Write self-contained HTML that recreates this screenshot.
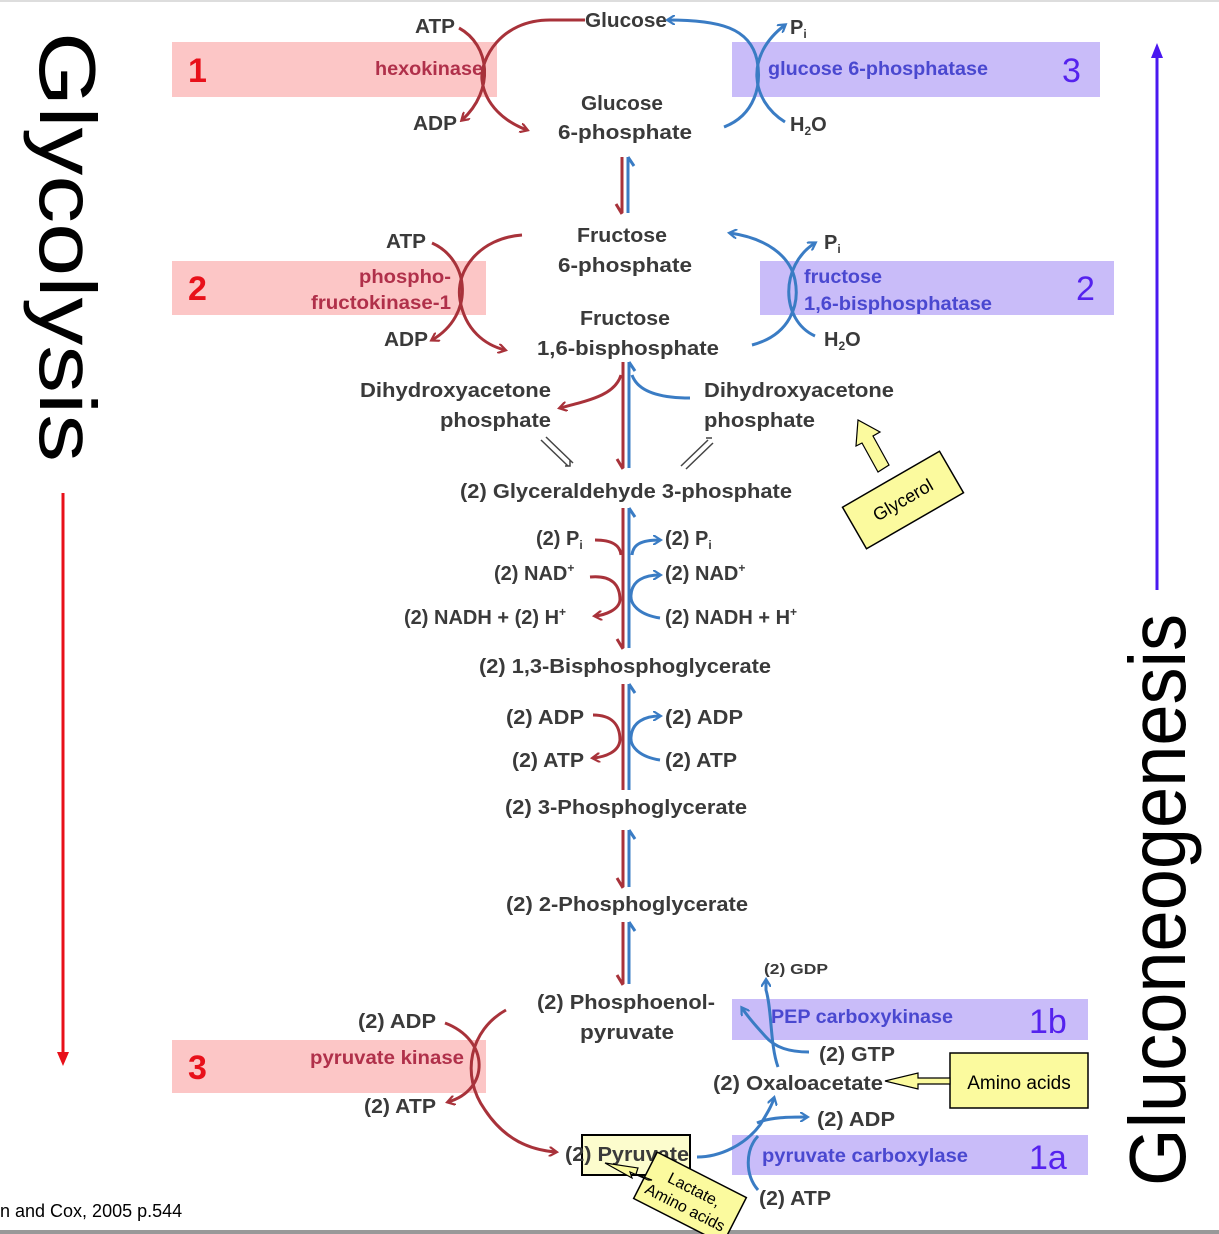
<!DOCTYPE html>
<html><head><meta charset="utf-8"><style>
html,body{margin:0;padding:0;background:#fff;}
svg{display:block;}
text{font-family:"Liberation Sans",sans-serif;}
.t{font-weight:bold;font-size:20px;fill:#3a3a3a;}
.r{fill:none;stroke:#a8323a;stroke-width:3;}
.b{fill:none;stroke:#3a7cc4;stroke-width:3;}
</style></head><body>
<svg width="1219" height="1234" viewBox="0 0 1219 1234" xmlns="http://www.w3.org/2000/svg">
<defs>
<marker id="ar" markerWidth="10" markerHeight="10" refX="7" refY="5" orient="auto" markerUnits="userSpaceOnUse"><path d="M0,0 L8,5 L0,10" fill="none" stroke="#a8323a" stroke-width="2.2"/></marker>
<marker id="ab" markerWidth="10" markerHeight="10" refX="7" refY="5" orient="auto" markerUnits="userSpaceOnUse"><path d="M0,0 L8,5 L0,10" fill="none" stroke="#3a7cc4" stroke-width="2.2"/></marker>
</defs>
<rect x="0" y="0" width="1219" height="2" fill="#ddd"/>
<rect x="0" y="1230" width="1219" height="4" fill="#999"/>

<rect x="172" y="42" width="325" height="55" fill="#fcc6c6"/>
<rect x="732" y="42" width="368" height="55" fill="#c9bcf9"/>
<rect x="172" y="261" width="314" height="54" fill="#fcc6c6"/>
<rect x="760" y="261" width="354" height="54" fill="#c9bcf9"/>
<rect x="172" y="1040" width="314" height="53" fill="#fcc6c6"/>
<rect x="732" y="999" width="356" height="41" fill="#c9bcf9"/>
<rect x="732" y="1135" width="356" height="40" fill="#c9bcf9"/>

<g font-weight="bold" font-size="34">
<text x="188" y="82" fill="#e8101a">1</text>
<text x="188" y="300" fill="#e8101a">2</text>
<text x="188" y="1079" fill="#e8101a">3</text>
<text x="1062" y="82" fill="#5522ee" font-weight="normal">3</text>
<text x="1076" y="300" fill="#5522ee" font-weight="normal">2</text>
<text x="1029" y="1033" fill="#5522ee" font-weight="normal">1b</text>
<text x="1029" y="1169" fill="#5522ee" font-weight="normal">1a</text>
</g>

<g font-weight="bold" font-size="19">
<text x="483" y="75" fill="#b0304a" text-anchor="end" textLength="108" lengthAdjust="spacingAndGlyphs">hexokinase</text>
<text x="451" y="283" fill="#b0304a" text-anchor="end" textLength="92" lengthAdjust="spacingAndGlyphs">phospho-</text>
<text x="451" y="309" fill="#b0304a" text-anchor="end" textLength="140" lengthAdjust="spacingAndGlyphs">fructokinase-1</text>
<text x="464" y="1064" fill="#b0304a" text-anchor="end" textLength="154" lengthAdjust="spacingAndGlyphs">pyruvate kinase</text>
<text x="768" y="75" fill="#4a48d0" textLength="220" lengthAdjust="spacingAndGlyphs">glucose 6-phosphatase</text>
<text x="804" y="283" fill="#4a48d0" textLength="78" lengthAdjust="spacingAndGlyphs">fructose</text>
<text x="804" y="310" fill="#4a48d0" textLength="188" lengthAdjust="spacingAndGlyphs">1,6-bisphosphatase</text>
<text x="771" y="1023" fill="#4a48d0" textLength="182" lengthAdjust="spacingAndGlyphs">PEP carboxykinase</text>
<text x="762" y="1162" fill="#4a48d0" textLength="206" lengthAdjust="spacingAndGlyphs">pyruvate carboxylase</text>
</g>

<g class="t">
<text x="415" y="33" textLength="40" lengthAdjust="spacingAndGlyphs">ATP</text>
<text x="585" y="27" textLength="82" lengthAdjust="spacingAndGlyphs">Glucose</text>
<text x="790" y="34">P<tspan font-size="12" dy="4">i</tspan></text>
<text x="413" y="130" textLength="44" lengthAdjust="spacingAndGlyphs">ADP</text>
<text x="622" y="110" text-anchor="middle" textLength="82" lengthAdjust="spacingAndGlyphs">Glucose</text>
<text x="625" y="139" text-anchor="middle" textLength="134" lengthAdjust="spacingAndGlyphs">6-phosphate</text>
<text x="790" y="131">H<tspan font-size="12" dy="4">2</tspan><tspan dy="-4">O</tspan></text>

<text x="386" y="248" textLength="40" lengthAdjust="spacingAndGlyphs">ATP</text>
<text x="622" y="242" text-anchor="middle" textLength="90" lengthAdjust="spacingAndGlyphs">Fructose</text>
<text x="625" y="272" text-anchor="middle" textLength="134" lengthAdjust="spacingAndGlyphs">6-phosphate</text>
<text x="824" y="249">P<tspan font-size="12" dy="4">i</tspan></text>
<text x="384" y="346" textLength="44" lengthAdjust="spacingAndGlyphs">ADP</text>
<text x="625" y="325" text-anchor="middle" textLength="90" lengthAdjust="spacingAndGlyphs">Fructose</text>
<text x="628" y="355" text-anchor="middle" textLength="182" lengthAdjust="spacingAndGlyphs">1,6-bisphosphate</text>
<text x="824" y="346">H<tspan font-size="12" dy="4">2</tspan><tspan dy="-4">O</tspan></text>

<text x="360" y="397" textLength="191" lengthAdjust="spacingAndGlyphs">Dihydroxyacetone</text>
<text x="440" y="427" textLength="111" lengthAdjust="spacingAndGlyphs">phosphate</text>
<text x="704" y="397" textLength="190" lengthAdjust="spacingAndGlyphs">Dihydroxyacetone</text>
<text x="704" y="427" textLength="111" lengthAdjust="spacingAndGlyphs">phosphate</text>

<text x="460" y="498" textLength="332" lengthAdjust="spacingAndGlyphs">(2) Glyceraldehyde 3-phosphate</text>

<text x="536" y="545">(2) P<tspan font-size="12" dy="4">i</tspan></text>
<text x="665" y="545">(2) P<tspan font-size="12" dy="4">i</tspan></text>
<text x="494" y="580">(2) NAD<tspan font-size="12" dy="-8">+</tspan></text>
<text x="665" y="580">(2) NAD<tspan font-size="12" dy="-8">+</tspan></text>
<text x="404" y="624">(2) NADH + (2) H<tspan font-size="12" dy="-8">+</tspan></text>
<text x="665" y="624">(2) NADH + H<tspan font-size="12" dy="-8">+</tspan></text>

<text x="479" y="673" textLength="292" lengthAdjust="spacingAndGlyphs">(2) 1,3-Bisphosphoglycerate</text>
<text x="506" y="724" textLength="78" lengthAdjust="spacingAndGlyphs">(2) ADP</text>
<text x="512" y="767" textLength="72" lengthAdjust="spacingAndGlyphs">(2) ATP</text>
<text x="665" y="724" textLength="78" lengthAdjust="spacingAndGlyphs">(2) ADP</text>
<text x="665" y="767" textLength="72" lengthAdjust="spacingAndGlyphs">(2) ATP</text>
<text x="505" y="814" textLength="242" lengthAdjust="spacingAndGlyphs">(2) 3-Phosphoglycerate</text>
<text x="506" y="911" textLength="242" lengthAdjust="spacingAndGlyphs">(2) 2-Phosphoglycerate</text>
<text x="537" y="1009" textLength="178" lengthAdjust="spacingAndGlyphs">(2) Phosphoenol-</text>
<text x="580" y="1039" textLength="94" lengthAdjust="spacingAndGlyphs">pyruvate</text>
<text x="358" y="1028" textLength="78" lengthAdjust="spacingAndGlyphs">(2) ADP</text>
<text x="364" y="1113" textLength="72" lengthAdjust="spacingAndGlyphs">(2) ATP</text>
<text x="764" y="974" font-size="15" textLength="64" lengthAdjust="spacingAndGlyphs">(2) GDP</text>
<text x="819" y="1061" textLength="76" lengthAdjust="spacingAndGlyphs">(2) GTP</text>
<text x="713" y="1090" textLength="170" lengthAdjust="spacingAndGlyphs">(2) Oxaloacetate</text>
<text x="817" y="1126" textLength="78" lengthAdjust="spacingAndGlyphs">(2) ADP</text>
<text x="759" y="1205" textLength="72" lengthAdjust="spacingAndGlyphs">(2) ATP</text>
</g>

<rect x="582" y="1135" width="108" height="40" fill="#fbfbc0" fill-opacity="0.8" stroke="#000" stroke-width="2"/>
<text x="565" y="1161" class="t" fill="#5a5a3a" textLength="124" lengthAdjust="spacingAndGlyphs">(2) Pyruvate</text>

<g>
<line x1="622" y1="157" x2="622" y2="213" class="r" stroke-width="2.5"/><path d="M616,204 L622,214" class="r" stroke-width="2.5"/>
<line x1="628" y1="157" x2="628" y2="213" class="b" stroke-width="2.5"/><path d="M628,157 L634,166" class="b" stroke-width="2.5"/>
<line x1="623" y1="362" x2="623" y2="468" class="r" stroke-width="2.5"/><path d="M617,459 L623,469" class="r" stroke-width="2.5"/>
<line x1="629" y1="362" x2="629" y2="468" class="b" stroke-width="2.5"/><path d="M629,362 L635,371" class="b" stroke-width="2.5"/>
<line x1="623" y1="508" x2="623" y2="648" class="r" stroke-width="2.5"/><path d="M617,639 L623,649" class="r" stroke-width="2.5"/>
<line x1="629" y1="508" x2="629" y2="648" class="b" stroke-width="2.5"/><path d="M629,508 L635,517" class="b" stroke-width="2.5"/>
<line x1="623" y1="684" x2="623" y2="790" class="r" stroke-width="2.5"/>
<line x1="629" y1="684" x2="629" y2="790" class="b" stroke-width="2.5"/><path d="M629,684 L635,693" class="b" stroke-width="2.5"/>
<line x1="623" y1="830" x2="623" y2="887" class="r" stroke-width="2.5"/><path d="M617,878 L623,888" class="r" stroke-width="2.5"/>
<line x1="629" y1="830" x2="629" y2="887" class="b" stroke-width="2.5"/><path d="M629,830 L635,839" class="b" stroke-width="2.5"/>
<line x1="623" y1="922" x2="623" y2="984" class="r" stroke-width="2.5"/><path d="M617,975 L623,985" class="r" stroke-width="2.5"/>
<line x1="629" y1="922" x2="629" y2="984" class="b" stroke-width="2.5"/><path d="M629,922 L635,931" class="b" stroke-width="2.5"/>
</g>

<path d="M585,20 L550,20 C500,20 480,60 482,80 C485,105 505,122 527,130" class="r" marker-end="url(#ar)"/>
<path d="M459,28 C490,45 495,90 462,120" class="r" marker-end="url(#ar)"/>
<path d="M724,127 C755,115 762,85 757,60 C750,28 720,20 668,20" class="b" marker-end="url(#ab)"/>
<path d="M785,122 C750,100 745,55 785,25" class="b" marker-end="url(#ab)"/>
<path d="M522,235 C480,238 455,270 460,300 C465,330 485,345 505,350" class="r" marker-end="url(#ar)"/>
<path d="M432,243 C470,260 475,315 432,340" class="r" marker-end="url(#ar)"/>
<path d="M752,345 C790,335 800,305 795,280 C790,255 765,238 730,233" class="b" marker-end="url(#ab)"/>
<path d="M815,336 C780,320 780,265 815,243" class="b" marker-end="url(#ab)"/>
<path d="M621,375 C615,395 590,400 560,408" class="r" marker-end="url(#ar)"/>
<path d="M632,375 C638,392 660,398 690,398" class="b"/>
<path d="M541,440 L568,466 M546,437 L573,463 M565,466 L570,466 L570,460" fill="none" stroke="#444" stroke-width="1.5"/>
<path d="M708,440 L681,466 M713,443 L686,469 M706,438 L712,438" fill="none" stroke="#444" stroke-width="1.5"/>
<path d="M595,540 C612,540 620,545 621,555" class="r"/>
<path d="M590,577 C612,575 620,585 620,600 C619,610 605,615 595,616" class="r" marker-end="url(#ar)"/>
<path d="M632,555 C633,545 640,540 660,540" class="b" marker-end="url(#ab)"/>
<path d="M660,618 C640,615 630,605 631,595 C632,580 645,575 660,575" class="b" marker-end="url(#ab)"/>
<path d="M593,715 C612,715 620,725 620,740 C619,752 605,757 593,758" class="r" marker-end="url(#ar)"/>
<path d="M660,760 C640,757 630,747 631,737 C632,722 645,716 660,716" class="b" marker-end="url(#ab)"/>
<path d="M506,1010 C470,1030 460,1075 485,1110 C505,1140 530,1150 556,1152" class="r" marker-end="url(#ar)"/>
<path d="M445,1023 C490,1040 490,1090 448,1102" class="r" marker-end="url(#ar)"/>
<path d="M697,1157 C720,1157 745,1145 760,1125 C768,1112 772,1105 774,1098" class="b" marker-end="url(#ab)"/>
<path d="M757,1123 C770,1117 790,1117 807,1117" class="b" marker-end="url(#ab)"/>
<path d="M758,1190 C745,1175 745,1150 758,1136" class="b"/>
<path d="M778,1067 C770,1045 772,1010 766,990 L766,980" class="b" marker-end="url(#ab)"/>
<path d="M809,1052 C790,1052 775,1048 765,1036 C758,1028 750,1020 742,1008" class="b" marker-end="url(#ab)"/>

<g transform="translate(903,500) rotate(-30)">
<rect x="-56" y="-24" width="112" height="48" fill="#fbfa9e" stroke="#000" stroke-width="1.5"/>
<text x="0" y="6" text-anchor="middle" font-size="18" fill="#000">Glycerol</text>
</g>
<path d="M878,472 L862,443 L856,446 L858,420 L880,432 L873,436 L889,465 Z" fill="#fbfa9e" stroke="#000" stroke-width="1.2"/>

<rect x="950" y="1053" width="138" height="55" fill="#fbfa9e" stroke="#000" stroke-width="1.5"/>
<text x="1019" y="1089" text-anchor="middle" font-size="19" fill="#000">Amino acids</text>
<path d="M950,1078 L918,1078 L918,1073 L885,1081 L918,1089 L918,1084 L950,1084 Z" fill="#fbfa9e" stroke="#000" stroke-width="1.2"/>

<g transform="translate(690,1198) rotate(27)">
<rect x="-50" y="-26" width="100" height="52" fill="#fbfa9e" stroke="#000" stroke-width="1.5"/>
<text x="0" y="-4" text-anchor="middle" font-size="16" fill="#000">Lactate,</text>
<text x="0" y="16" text-anchor="middle" font-size="16" fill="#000">Amino acids</text>
</g>
<path d="M648,1180 L630,1172 L632,1178 L605,1163 L638,1168 L636,1174 L652,1180 Z" fill="#fbfa9e" stroke="#000" stroke-width="1.2"/>

<text transform="translate(40,32) rotate(90)" font-size="80" fill="#000" textLength="430" lengthAdjust="spacingAndGlyphs">Glycolysis</text>
<line x1="63" y1="493" x2="63" y2="1055" stroke="#e8101a" stroke-width="3"/>
<path d="M57,1052 L63,1066 L69,1052 Z" fill="#e8101a"/>
<text transform="translate(1185,1186) rotate(-90)" font-size="80" fill="#000" textLength="572" lengthAdjust="spacingAndGlyphs">Gluconeogenesis</text>
<line x1="1157" y1="590" x2="1157" y2="56" stroke="#4a18f0" stroke-width="3"/>
<path d="M1151,58 L1157,43 L1163,58 Z" fill="#4a18f0"/>

<text x="0" y="1217" font-size="18" fill="#000">n and Cox, 2005 p.544</text>
</svg>
</body></html>
